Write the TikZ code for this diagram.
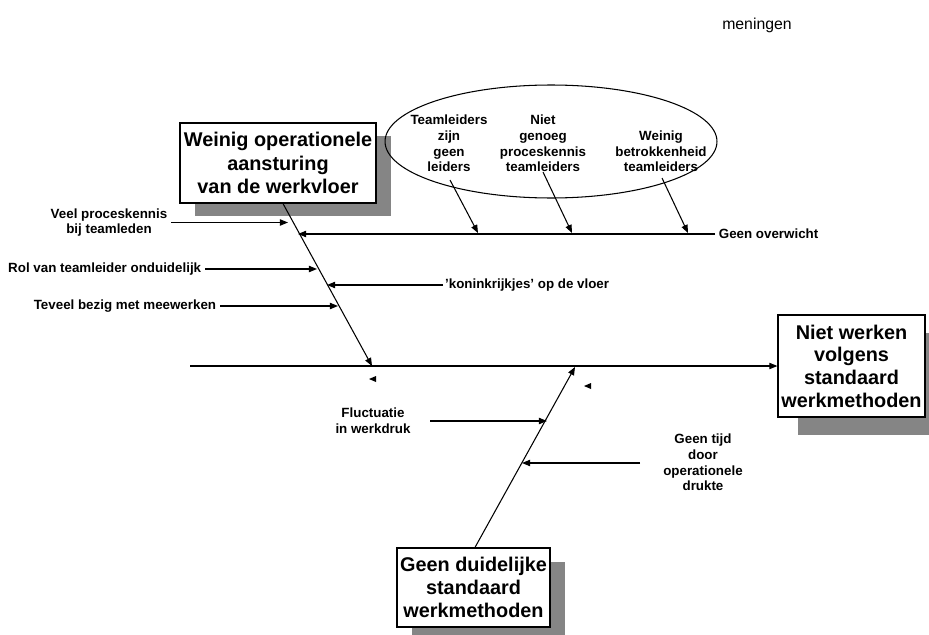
\documentclass[tikz,border=0pt]{standalone}
\usepackage{fontspec}
\setmainfont{Liberation Sans}
\usetikzlibrary{arrows.meta,shadows,shapes.geometric}

\begin{document}
\begin{tikzpicture}[x=0.02cm,y=-0.02cm,
  titlebox/.style={draw, fill=white, line width=0.7pt, align=center, inner sep=0pt,
    font=\fontsize{11.3}{13.6}\selectfont\bfseries},
  shade1/.style={drop shadow={shadow xshift=0.3cm, shadow yshift=-0.26cm, fill=black!48, opacity=1}},
  lbl/.style={font=\fontsize{7.6}{8.9}\selectfont\bfseries, align=center, inner sep=2pt},
  arr/.style={-{Triangle[length=4.6pt,width=3.6pt]}, line width=0.6pt},
  plain/.style={line width=0.6pt}]
\useasboundingbox (0,0) rectangle (929,635);
\clip (0,0) rectangle (929,635);

% effect boxes
\node[titlebox, shade1, minimum width=3.92cm, minimum height=1.6cm] (box1) at (278,163)
  {Weinig operationele\\aansturing\\van de werkvloer};
\node[titlebox, font=\fontsize{11.3}{12.9}\selectfont\bfseries,
  drop shadow={shadow xshift=0.4cm, shadow yshift=-0.36cm, fill=black!48, opacity=1},
  minimum width=2.94cm, minimum height=2.04cm] (box2) at (851.5,366)
  {Niet werken\\volgens\\standaard\\werkmethoden};
\node[titlebox, font=\fontsize{11.3}{13.3}\selectfont\bfseries,
  drop shadow={shadow xshift=0.3cm, shadow yshift=-0.28cm, fill=black!48, opacity=1},
  minimum width=3.06cm, minimum height=1.58cm] (box3) at (473.5,587.5)
  {Geen duidelijke\\standaard\\werkmethoden};

% ellipse with the leadership causes
\node[draw, ellipse, line width=0.6pt, minimum width=6.64cm, minimum height=2.26cm] (ell) at (551,141.5) {};
\node[lbl] (e1) at (449,143.5) {Teamleiders\\zijn\\geen\\leiders};
\node[lbl] (e2) at (543,143.5) {Niet\\genoeg\\proceskennis\\teamleiders};
\node[lbl] (e3) at (661,151.5) {Weinig\\betrokkenheid\\teamleiders};

% cause labels
\node[lbl] (veel) at (109,222.5) {Veel proceskennis\\bij teamleden};
\node[lbl, anchor=west] (gov) at (715,234) {Geen overwicht};
\node[lbl, anchor=east] (rol) at (205,269) {Rol van teamleider onduidelijk};
\node[lbl, anchor=west, inner sep=1pt] (kon) at (443,285) {'koninkrijkjes' op de vloer};
\node[lbl, anchor=east] (tev) at (220,306) {Teveel bezig met meewerken};
\node[lbl] (fl) at (373,421) {Fluctuatie\\in werkdruk};
\node[lbl] (tijd) at (703,462.5) {Geen tijd\\door\\operationele\\drukte};
\node[font=\fontsize{9}{10}\selectfont] (men) at (757,25) {meningen};

% points on the bones
\coordinate (s1b) at (372,366);
\coordinate (s2b) at (575,367);
\coordinate (m0) at (190,366);
\coordinate (h1) at (288,222.5);
\coordinate (h2) at (298,234);
\coordinate (h3) at (317,269);
\coordinate (h4) at (327,285);
\coordinate (h5) at (338,306);
\coordinate (t1) at (450,180);
\coordinate (t2) at (543,172);
\coordinate (t3) at (662,178);
\coordinate (o1) at (478,233);
\coordinate (o2) at (572,233);
\coordinate (o3) at (688,233);
\coordinate (f0) at (430,421);
\coordinate (f1) at (547,421);
\coordinate (g0) at (640,463);
\coordinate (g1) at (522,463);

% main spine and bones
\draw[arr] (m0) -- (box2.west);
\draw[arr] ([xshift=0.1cm]box1.south) -- (s1b);
\draw[arr] ([xshift=0.03cm]box3.north) -- (s2b);

% sub-causes
\draw[arr] (veel.east) -- (h1);
\draw[arr] (gov.west) -- (h2);
\draw[arr] (rol.east) -- (h3);
\draw[arr] (kon.west) -- (h4);
\draw[arr] (tev.east) -- (h5);
\draw[arr] (t1) -- (o1);
\draw[arr] (t2) -- (o2);
\draw[arr] (t3) -- (o3);
\draw[arr] (f0) -- (f1);
\draw[arr] (g0) -- (g1);

% small stray arrowheads
\fill (369,379) -- (376,376) -- (376,382) -- cycle;
\fill (584,386) -- (591,383) -- (591,389) -- cycle;
\end{tikzpicture}
\end{document}
